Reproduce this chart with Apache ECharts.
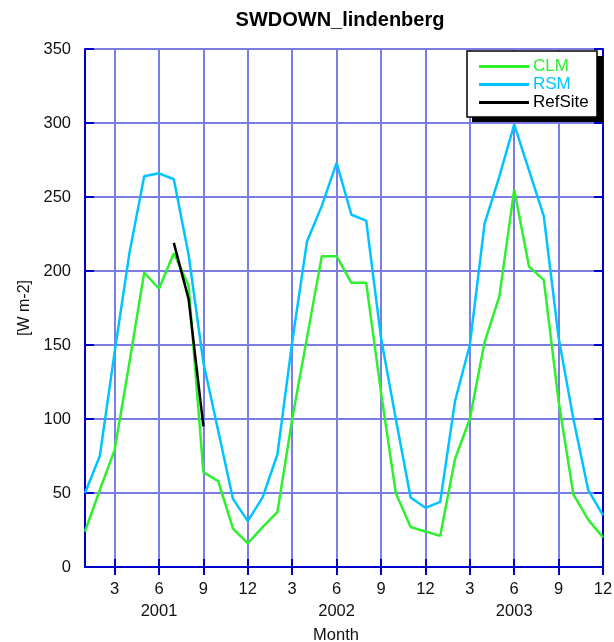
<!DOCTYPE html>
<html>
<head>
<meta charset="utf-8">
<script src="https://cdn.jsdelivr.net/npm/echarts@6/dist/echarts.min.js"></script>
<style>html,body{margin:0;padding:0;background:#fff}#c{width:614px;height:642px}</style>
</head>
<body>
<div id="c"></div>
<script>
var months = [1,2,3,4,5,6,7,8,9,10,11,12, 1,2,3,4,5,6,7,8,9,10,11,12, 1,2,3,4,5,6,7,8,9,10,11,12];
var years = ['2001','2002','2003'];
var clm = [24, 52, 79, 138, 199, 188, 212, 190, 64, 58, 26, 16,
           27, 37, 100, 155, 210, 210, 192, 192, 118, 50, 27, 24,
           21, 73, 100, 152, 183, 255, 203, 194, 112, 49, 32, 20];
var rsm = [50, 75, 145, 212, 264, 266, 262, 211, 138, 92, 46, 31,
           47, 76, 152, 220, 244, 273, 238, 234, 155, 100, 47, 40,
           44, 112, 150, 232, 264, 299, 268, 237, 155, 100, 52, 35];
var refsite = [null, null, null, null, null, null, 219, 181, 95, null, null, null,
               null, null, null, null, null, null, null, null, null, null, null, null,
               null, null, null, null, null, null, null, null, null, null, null, null];
var yTicks = [0, 350, 50];

var GREEN = '#2ef02e', CYAN = '#00c4ff', BLACK = '#000000';
var AXIS = '#0000cc', GRID = '#7c7ce6';
var FONT = 'Liberation Sans, Arial, sans-serif';
var cats = months.map(function (m, i) { return String(i); });
var every3 = function (i) { return (i + 1) % 3 === 0; };

var chart = echarts.init(document.getElementById('c'), null, {renderer: 'canvas'});
chart.setOption({
  animation: false,
  backgroundColor: '#ffffff',
  textStyle: {fontFamily: FONT},
  title: {
    text: 'SWDOWN_lindenberg',
    left: 335, top: 5, textAlign: 'center',
    textStyle: {fontSize: 20, fontWeight: 'bold', color: '#000', fontFamily: FONT}
  },
  graphic: [
    {type: 'rect', z: 10, shape: {x: 472, y: 56, width: 131, height: 66}, style: {fill: '#000'}},
    {type: 'rect', z: 11, shape: {x: 467, y: 51, width: 130, height: 66},
     style: {fill: '#fff', stroke: '#000', lineWidth: 1.5}}
  ],
  grid: {left: 85, right: 11, top: 49, bottom: 75, containLabel: false, outerBoundsMode: 'none'},
  legend: {
    orient: 'vertical', left: 469, top: 51, z: 20,
    padding: [7, 12, 8, 10],
    itemWidth: 50, itemHeight: 3, itemGap: 1, icon: 'rect',
    textStyle: {fontSize: 17, fontFamily: FONT, padding: [0, 0, 0, -1]},
    data: [
      {name: 'CLM', textStyle: {color: GREEN}},
      {name: 'RSM', textStyle: {color: CYAN}},
      {name: 'RefSite', textStyle: {color: BLACK}}
    ]
  },
  xAxis: [{
    type: 'category', data: cats, boundaryGap: false,
    name: 'Month', nameLocation: 'middle', nameGap: 56,
    nameTextStyle: {fontSize: 16.5, color: '#111', padding: [0, 16, 0, 0]},
    axisLine: {lineStyle: {color: AXIS, width: 2}},
    axisTick: {inside: true, length: 8, interval: every3, lineStyle: {color: AXIS, width: 2}},
    axisLabel: {
      interval: every3, margin: 11, fontSize: 16.5, color: '#111', lineHeight: 22,
      formatter: function (v, i) {
        var idx = Number(v);
        var m = months[idx];
        var s = String(m);
        if (m === 6) s += '\n' + years[Math.floor(idx / 12)];
        return s;
      }
    },
    splitLine: {show: true, interval: every3, lineStyle: {color: GRID, width: 2}}
  }, {
    type: 'category', data: cats, boundaryGap: false, position: 'top',
    axisLine: {lineStyle: {color: AXIS, width: 2}},
    axisTick: {inside: true, length: 8, interval: every3, lineStyle: {color: AXIS, width: 2}},
    axisLabel: {show: false}, splitLine: {show: false}
  }],
  yAxis: [{
    type: 'value', min: yTicks[0], max: yTicks[1], interval: yTicks[2],
    name: '[W m-2]', nameLocation: 'middle', nameGap: 51, nameRotate: 90,
    nameTextStyle: {fontSize: 16, color: '#111'},
    axisLine: {show: true, lineStyle: {color: AXIS, width: 2}},
    axisTick: {show: true, inside: true, length: 9, lineStyle: {color: AXIS, width: 2}},
    axisLabel: {margin: 14, fontSize: 16.5, color: '#111'},
    splitLine: {show: true, lineStyle: {color: GRID, width: 2}}
  }, {
    type: 'value', min: yTicks[0], max: yTicks[1], interval: yTicks[2], position: 'right',
    axisLine: {show: true, lineStyle: {color: AXIS, width: 2}},
    axisTick: {show: true, inside: true, length: 9, lineStyle: {color: AXIS, width: 2}},
    axisLabel: {show: false}, splitLine: {show: false}
  }],
  series: [
    {name: 'CLM', type: 'line', data: clm, symbol: 'none', color: GREEN,
     lineStyle: {color: GREEN, width: 2.5}},
    {name: 'RSM', type: 'line', data: rsm, symbol: 'none', color: CYAN,
     lineStyle: {color: CYAN, width: 2.5}},
    {name: 'RefSite', type: 'line', data: refsite, symbol: 'none', color: BLACK,
     lineStyle: {color: BLACK, width: 2.5}}
  ]
});
</script>
</body>
</html>
